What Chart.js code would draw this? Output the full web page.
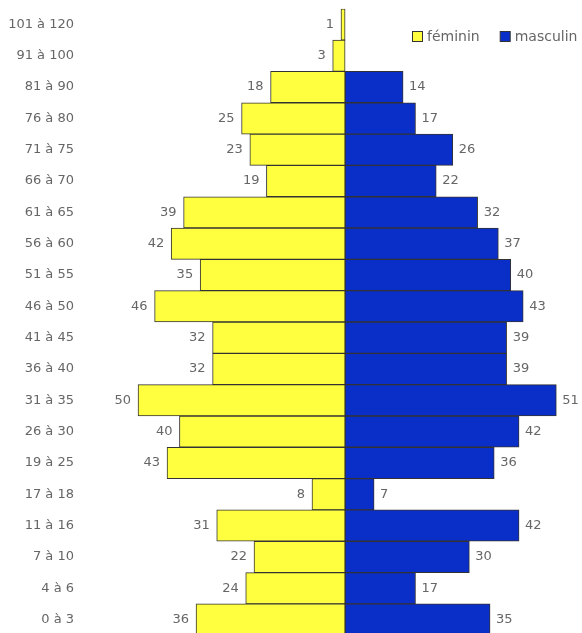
<!DOCTYPE html>
<html>
<head>
<meta charset="utf-8">
<script src="https://cdn.jsdelivr.net/npm/chart.js@4"></script>
<style>
html,body{margin:0;padding:0;overflow:hidden;background:#fff;}
#wrap{width:582px;height:658px;position:absolute;left:0;top:-7px;}
</style>
</head>
<body>
<div id="wrap"><canvas id="c"></canvas></div>
<script>
const categories = ["101 à 120","91 à 100","81 à 90","76 à 80","71 à 75","66 à 70","61 à 65","56 à 60","51 à 55","46 à 50","41 à 45","36 à 40","31 à 35","26 à 30","19 à 25","17 à 18","11 à 16","7 à 10","4 à 6","0 à 3"];
const feminin = [1,3,18,25,23,19,39,42,35,46,32,32,50,40,43,8,31,22,24,36];
const masculin = [0,0,14,17,26,22,32,37,40,43,39,39,51,42,36,7,42,30,17,35];

const FONT = "'DejaVu Sans', sans-serif";

const valueLabels = {
  id: 'valueLabels',
  afterDatasetsDraw(chart) {
    const ctx = chart.ctx;
    ctx.save();
    ctx.font = "13px " + FONT;
    ctx.fillStyle = "#666";
    ctx.textBaseline = "middle";
    chart.data.datasets.forEach((ds, di) => {
      const meta = chart.getDatasetMeta(di);
      meta.data.forEach((bar, i) => {
        const v = ds.data[i];
        if (!v) return;
        if (v < 0) { ctx.textAlign = "right"; ctx.fillText(String(-v), bar.x - 7, bar.y); }
        else { ctx.textAlign = "left"; ctx.fillText(String(v), bar.x + 6, bar.y); }
      });
    });
    ctx.restore();
  }
};

const customLegend = {
  id: 'customLegend',
  afterDraw(chart) {
    const ctx = chart.ctx;
    ctx.save();
    ctx.font = "14px " + FONT;
    ctx.textBaseline = "middle";
    ctx.textAlign = "left";
    let x = 412;
    const yc = 44;
    chart.data.datasets.forEach((ds) => {
      ctx.fillStyle = ds.backgroundColor;
      ctx.fillRect(x + 0.5, yc - 5.5, 10, 10);
      ctx.strokeStyle = '#333';
      ctx.lineWidth = 1;
      ctx.strokeRect(x + 0.5, yc - 5.5, 10, 10);
      ctx.fillStyle = '#666';
      ctx.fillText(ds.label, x + 15, yc);
      x += 15 + ctx.measureText(ds.label).width + 20;
    });
    ctx.restore();
  }
};

new Chart(document.getElementById('c'), {
  type: 'bar',
  data: {
    labels: categories,
    datasets: [
      { label: 'féminin', data: feminin.map(v => -v),
        backgroundColor: '#ffff40', borderColor: '#333', borderWidth: 1, borderSkipped: false },
      { label: 'masculin', data: masculin,
        backgroundColor: '#0a2ec8', borderColor: '#333', borderWidth: 1, borderSkipped: false }
    ]
  },
  options: {
    indexAxis: 'y',
    responsive: true,
    maintainAspectRatio: false,
    animation: false,
    layout: { padding: { top: 3, right: 0, bottom: 0, left: 0 } },
    datasets: { bar: { barPercentage: 1, categoryPercentage: 1 } },
    scales: {
      x: { stacked: true, min: -61.6, max: 57.2, display: false },
      y: { stacked: true,
        grid: { display: false },
        border: { display: false },
        ticks: { color: '#666', font: { family: FONT, size: 13 }, padding: 8 },
        afterFit(s) { s.width = 90; }
      }
    },
    plugins: {
      legend: { display: false },
      tooltip: { enabled: false }
    }
  },
  plugins: [valueLabels, customLegend]
});
</script>
</body>
</html>
